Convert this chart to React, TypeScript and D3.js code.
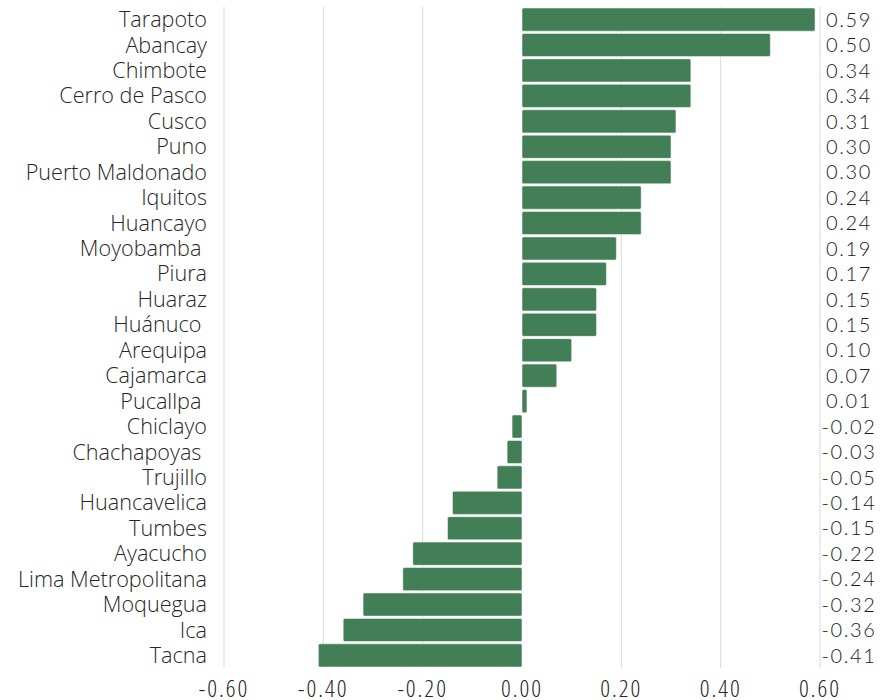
import React, { useEffect, useRef } from "react";
import * as d3 from "d3";

const cities = [
  "Tarapoto", "Abancay", "Chimbote", "Cerro de Pasco", "Cusco", "Puno",
  "Puerto Maldonado", "Iquitos", "Huancayo", "Moyobamba ", "Piura", "Huaraz",
  "Huánuco ", "Arequipa", "Cajamarca", "Pucallpa ", "Chiclayo", "Chachapoyas ",
  "Trujillo", "Huancavelica", "Tumbes", "Ayacucho", "Lima Metropolitana",
  "Moquegua", "Ica", "Tacna",
];
const values = [
  0.59, 0.5, 0.34, 0.34, 0.31, 0.3, 0.3, 0.24, 0.24, 0.19, 0.17, 0.15, 0.15,
  0.1, 0.07, 0.01, -0.02, -0.03, -0.05, -0.14, -0.15, -0.22, -0.24, -0.32,
  -0.36, -0.41,
];
const ticks = [-0.6, -0.4, -0.2, 0, 0.2, 0.4, 0.6];

export default function App() {
  const ref = useRef<SVGSVGElement>(null);

  useEffect(() => {
    const svg = d3.select(ref.current);
    svg.selectAll("*").remove();

    const x = d3.scaleLinear().domain([-0.6, 0.6]).range([224, 820]);
    const y = d3.scaleBand().domain(cities).range([7, 668]).paddingInner(0.09).paddingOuter(0.04);

    // grid
    svg.append("g")
      .selectAll("line")
      .data(ticks.filter((t) => t !== 0))
      .join("line")
      .attr("x1", (d) => x(d))
      .attr("x2", (d) => x(d))
      .attr("y1", 7)
      .attr("y2", 668)
      .attr("stroke", "#d9d9d9")
      .attr("stroke-width", 1);

    // bars
    svg.append("g")
      .selectAll("rect")
      .data(values)
      .join("rect")
      .attr("x", (d) => x(Math.min(0, d)))
      .attr("y", (_, i) => y(cities[i])!)
      .attr("width", (d) => Math.abs(x(d) - x(0)))
      .attr("height", y.bandwidth())
      .attr("rx", 1.5)
      .attr("fill", "#437f56")
      .attr("stroke", "#ffffff")
      .attr("stroke-width", 0.5);

    // category labels
    svg.append("g")
      .selectAll("text")
      .data(cities)
      .join("text")
      .attr("x", 207)
      .attr("y", (d) => y(d)! + y.bandwidth() / 2)
      .attr("dy", "0.35em")
      .attr("text-anchor", "end")
      .style("white-space", "pre")
      .style("font-family", "'Open Sans', sans-serif")
      .style("font-weight", "300")
      .style("font-stretch", "normal")
      .style("font-size", "21.6px")
      .attr("fill", "#262626")
      .text((d) => d);

    // value labels
    svg.append("g")
      .selectAll("text")
      .data(values)
      .join("text")
      .attr("x", 849)
      .attr("y", (_, i) => y(cities[i])! + y.bandwidth() / 2)
      .attr("dy", "0.36em")
      .attr("text-anchor", "middle")
      .style("font-family", "Lato, sans-serif")
      .style("font-weight", "300")
      .style("font-size", "20px")
      .style("letter-spacing", "1.6px")
      .attr("fill", "#1a1a1a")
      .text((d) => d.toFixed(2));

    // x axis labels
    svg.append("g")
      .selectAll("text")
      .data(ticks)
      .join("text")
      .attr("x", (d) => x(d))
      .attr("y", 697)
      .attr("text-anchor", "middle")
      .style("font-family", "'Open Sans', sans-serif")
      .style("font-weight", "300")
      .style("font-stretch", "condensed")
      .style("font-size", "24px")
      .style("letter-spacing", "2px")
      .attr("fill", "#262626")
      .text((d) => d.toFixed(2));
  }, []);

  return (
    <svg
      ref={ref}
      width={883}
      height={700}
      style={{ position: "absolute", left: 0, top: 0, background: "#fff" }}
    />
  );
}
